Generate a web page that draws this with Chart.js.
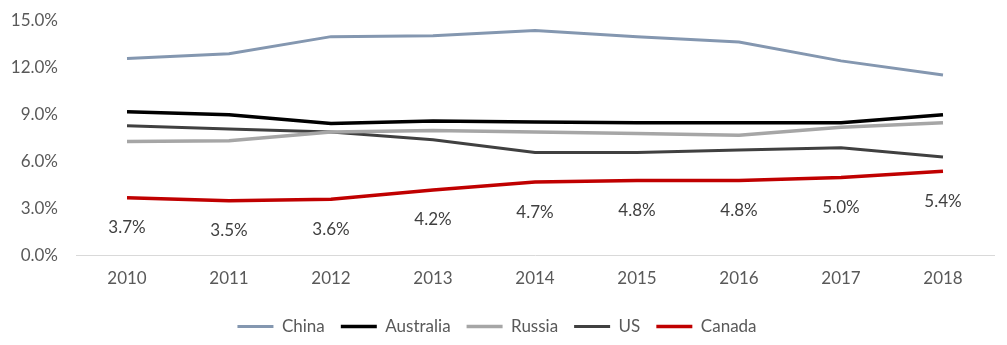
<!DOCTYPE html>
<html>
<head>
<meta charset="utf-8">
<script src="https://cdn.jsdelivr.net/npm/chart.js@4.4.0/dist/chart.umd.min.js"></script>
<style>
  html, body { margin: 0; padding: 0; background: #fff; }
  #wrap { width: 1007px; height: 345px; position: relative; }
</style>
</head>
<body>
<div id="wrap"><canvas id="chart"></canvas></div>
<script>
const years = ['2010', '2011', '2012', '2013', '2014', '2015', '2016', '2017', '2018'];
const china = [12.6, 12.9, 14.0, 14.05, 14.4, 14.0, 13.65, 12.45, 11.55];
const australia = [9.2, 9.0, 8.45, 8.6, 8.55, 8.5, 8.5, 8.5, 9.0];
const russia = [7.3, 7.35, 7.9, 8.0, 7.9, 7.8, 7.7, 8.2, 8.5];
const us = [8.3, 8.1, 7.9, 7.4, 6.6, 6.6, 6.75, 6.9, 6.3];
const canada = [3.7, 3.5, 3.6, 4.2, 4.7, 4.8, 4.8, 5.0, 5.4];
const yTicks = [0, 3, 6, 9, 12, 15];

const font = 'Lato';
const textColor = '#595959';

// labels under the Canada line
const canadaLabels = {
    id: 'canadaLabels',
    afterDatasetsDraw(chart) {
        const ctx = chart.ctx;
        const meta = chart.getDatasetMeta(4);
        ctx.save();
        ctx.font = '17px ' + font;
        ctx.fillStyle = '#404040';
        ctx.textAlign = 'center';
        ctx.textBaseline = 'middle';
        meta.data.forEach((pt, i) => {
            ctx.fillText(canada[i].toFixed(1) + '%', pt.x, pt.y + 30);
        });
        ctx.restore();
    }
};

const ctx = document.getElementById('chart').getContext('2d');
new Chart(ctx, {
    type: 'line',
    data: {
        labels: years,
        datasets: [
            { label: 'China', data: china, borderColor: '#8497b0', borderWidth: 3 },
            { label: 'Australia', data: australia, borderColor: '#000000', borderWidth: 3.5 },
            { label: 'Russia', data: russia, borderColor: '#a6a6a6', borderWidth: 3.5 },
            { label: 'US', data: us, borderColor: '#404040', borderWidth: 3 },
            { label: 'Canada', data: canada, borderColor: '#c00000', borderWidth: 3.5 }
        ].map(d => Object.assign(d, { backgroundColor: d.borderColor, pointRadius: 0, fill: false, tension: 0 }))
    },
    options: {
        responsive: true,
        maintainAspectRatio: false,
        animation: false,
        layout: { padding: { top: 21, right: 13, left: 0, bottom: 0 } },
        scales: {
            x: {
                offset: true,
                grid: { display: false, drawTicks: false, offset: true },
                border: { color: '#d9d9d9', width: 1 },
                ticks: { color: textColor, font: { family: font, size: 17 }, padding: 13 }
            },
            y: {
                min: 0,
                max: 15,
                afterBuildTicks(scale) { scale.ticks = yTicks.map(v => ({ value: v })); },
                afterFit(scale) {
                    scale.width = 76;
                    scale.paddingTop = 0;
                    scale.paddingBottom = 0;
                },
                grid: { display: false, drawTicks: false },
                border: { display: false },
                ticks: {
                    color: textColor,
                    font: { family: font, size: 17 },
                    padding: 18,
                    callback: v => v.toFixed(1) + '%'
                }
            }
        },
        plugins: {
            legend: {
                position: 'bottom',
                labels: {
                    usePointStyle: true,
                    pointStyle: 'line',
                    pointStyleWidth: 36,
                    color: textColor,
                    font: { family: font, size: 17 },
                    padding: 16
                }
            },
            tooltip: { enabled: false }
        }
    },
    plugins: [canadaLabels]
});
</script>
</body>
</html>
